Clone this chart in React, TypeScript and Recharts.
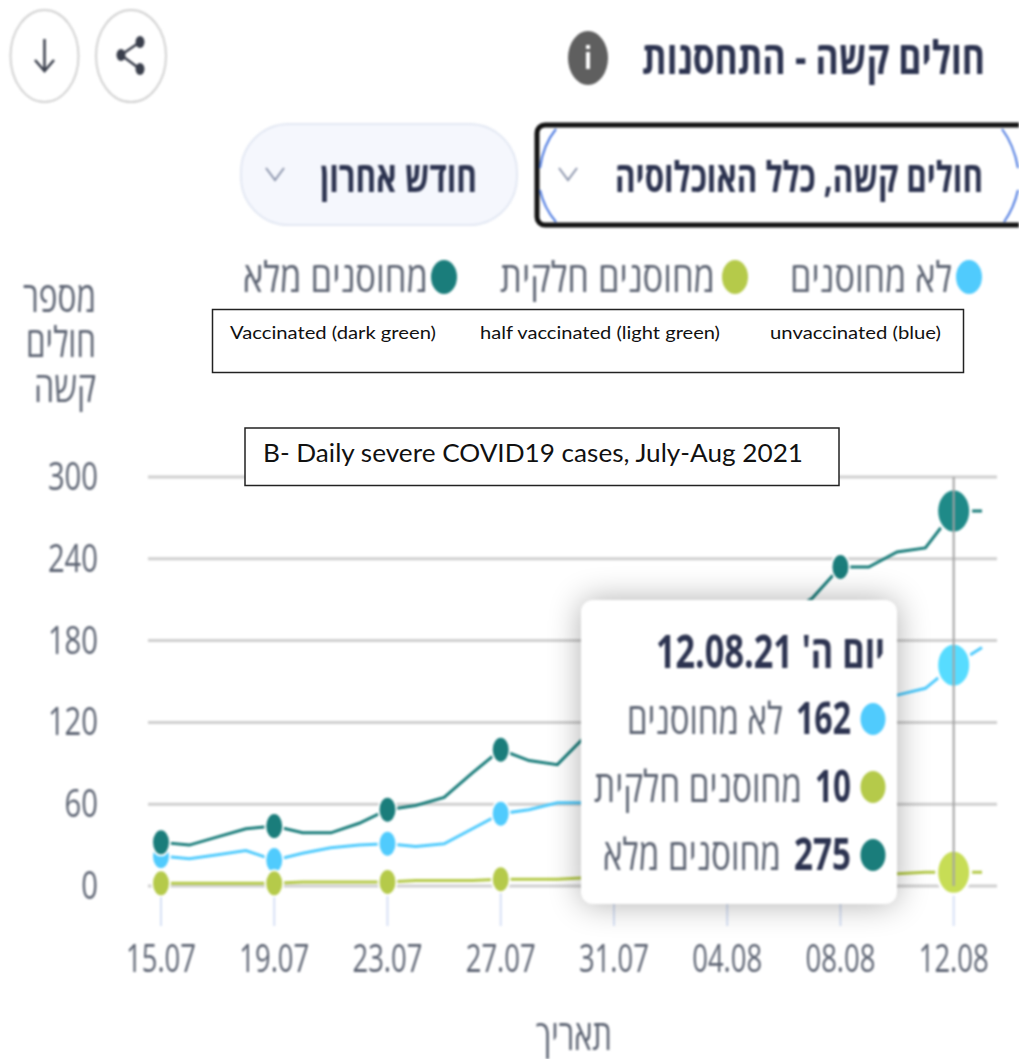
import { CartesianGrid, Line, LineChart, ReferenceLine, Tooltip, XAxis, YAxis } from 'recharts';

const dates: string[] = [
    '15.07', '16.07', '17.07', '18.07', '19.07', '20.07', '21.07', '22.07', '23.07', '24.07',
    '25.07', '26.07', '27.07', '28.07', '29.07', '30.07', '31.07', '01.08', '02.08', '03.08',
    '04.08', '05.08', '06.08', '07.08', '08.08', '09.08', '10.08', '11.08', '12.08', '13.08',
];
const unvaccinated: number[] = [22, 20, 23, 26, 19, 24, 28, 30, 31, 29, 31, 42, 53, 56, 61, 61, 62, 66, 72, 80, 88, 98, 108, 118, 126, 134, 140, 145, 162, 175];
const partial: number[] = [2, 2, 2, 2, 2, 3, 3, 3, 3, 4, 4, 4, 5, 5, 5, 6, 6, 6, 7, 7, 7, 8, 8, 8, 9, 9, 9, 10, 10, 10];
const full: number[] = [32, 30, 36, 42, 44, 39, 39, 46, 56, 59, 65, 83, 100, 92, 89, 110, 122, 135, 148, 160, 172, 184, 198, 211, 234, 234, 245, 248, 275, 275];

const xTicks: string[] = ['15.07', '19.07', '23.07', '27.07', '31.07', '04.08', '08.08', '12.08'];
const yTicks: number[] = [0, 60, 120, 180, 240, 300];
const yTitle: string[] = ['מספר', 'חולים', 'קשה'];

const nameNone = 'לא מחוסנים';
const namePartial = 'מחוסנים חלקית';
const nameFull = 'מחוסנים מלא';

const BLUE = '#50cbfd';
const LIME = '#b5ca4a';
const TEAL = '#1a7d7b';
const ACTIVE_INDEX = 28;
const FONT = '"Open Sans", "Liberation Sans", sans-serif';

const chartData = dates.map((date, i) => ({
    date,
    none: unvaccinated[i],
    partial: partial[i],
    full: full[i],
}));

type TextProps = {
    x: number;
    y: number;
    w: number;
    size: number;
    weight?: number;
    fill?: string;
    rtl?: boolean;
    font?: string;
    children: React.ReactNode;
};

// squeezed text, the source screenshot is condensed horizontally
function SText({ x, y, w, size, weight = 400, fill = '#5d6473', rtl = false, font = FONT, children }: TextProps) {
    return (
        <text
            x={x}
            y={y}
            fontFamily={font}
            fontSize={size}
            fontWeight={weight}
            fill={fill}
            direction={rtl ? 'rtl' : 'ltr'}
            textLength={w}
            lengthAdjust="spacingAndGlyphs"
            dominantBaseline="central"
        >
            {children}
        </text>
    );
}

const makeDot = (color: string, activeColor: string) => (props: any) => {
    const { cx, cy, index } = props;
    if (index % 4 !== 0) return <g key={index} />;
    if (index === ACTIVE_INDEX) {
        return <ellipse key={index} cx={cx} cy={cy} rx={17} ry={22} fill={activeColor} stroke="#fff" strokeWidth={3} />;
    }
    return <ellipse key={index} cx={cx} cy={cy} rx={9} ry={13} fill={color} stroke="#fff" strokeWidth={2} />;
};

const XTick = ({ x, y, payload }: any) => (
    <SText x={x - 35} y={y + 29} w={70} size={38}>{payload.value}</SText>
);

const YTick = ({ y, payload }: any) => {
    const w = String(payload.value).length * 16.7;
    return <SText x={98 - w} y={y - 2} w={w} size={38}>{payload.value}</SText>;
};

function InfoTooltip({ active, payload, label }: any) {
    if (!active || !payload || !payload.length) return null;
    const row = payload[0].payload;
    const rows = [
        { value: row.none, name: nameNone, color: BLUE, y: 119, numW: 55, nameW: 156 },
        { value: row.partial, name: namePartial, color: LIME, y: 187, numW: 36, nameW: 208 },
        { value: row.full, name: nameFull, color: TEAL, y: 255, numW: 57, nameW: 178 },
    ];
    return (
        <div style={{ width: 316, height: 304, background: '#fff', borderRadius: 12, boxShadow: '0 0 32px rgba(0,0,0,0.32)' }}>
            <svg width={316} height={304}>
                <SText x={304} y={50} w={229} size={46} weight={700} fill="#2c3350" rtl>{`יום ה' ${label}.21`}</SText>
                {rows.map(r => (
                    <g key={r.name}>
                        <ellipse cx={292} cy={r.y} rx={12.5} ry={16} fill={r.color} />
                        <SText x={270} y={r.y - 2} w={r.numW} size={44} weight={700} fill="#2c3350" rtl>{r.value}</SText>
                        <SText x={270 - r.numW - 13} y={r.y - 2} w={r.nameW} size={44} fill="#5d6473" rtl>{r.name}</SText>
                    </g>
                ))}
            </svg>
        </div>
    );
}

function Chrome() {
    return (
        <svg width={1019} height={1059} style={{ position: 'absolute', left: 0, top: 0 }}>
            {/* round buttons */}
            <ellipse cx={44.5} cy={56} rx={34} ry={46} fill="#fff" stroke="#d2d2d2" strokeWidth={2} />
            <ellipse cx={131} cy={56} rx={35} ry={46} fill="#fff" stroke="#d2d2d2" strokeWidth={2} />
            <path d="M44.5 39 V70 M35 60 L44.5 71 L54 60" fill="none" stroke="#3a3f4c" strokeWidth={2.5} />
            <path d="M140 42 L121 55 L140 69" fill="none" stroke="#3a3f4c" strokeWidth={2.5} />
            <ellipse cx={140} cy={42} rx={4.5} ry={6} fill="#3a3f4c" />
            <ellipse cx={121} cy={55} rx={4.5} ry={6} fill="#3a3f4c" />
            <ellipse cx={140} cy={69} rx={4.5} ry={6} fill="#3a3f4c" />

            {/* title */}
            <ellipse cx={588} cy={58} rx={20} ry={27} fill="#5f5f5f" />
            <rect x={586} y={52} width={4} height={17} fill="#fff" />
            <rect x={586} y={45} width={4} height={4} fill="#fff" />
            <SText x={985} y={56} w={343} size={46} weight={700} fill="#2c3350" rtl>חולים קשה - התחסנות</SText>

            {/* dropdowns */}
            <rect x={241} y={124} width={276} height={101} rx={48} fill="#f5f7fd" stroke="#e3e8f3" strokeWidth={2} />
            <SText x={477} y={175} w={157} size={42} weight={700} fill="#2c3350" rtl>חודש אחרון</SText>
            <path d="M266 168 L275 180 L284 168" fill="none" stroke="#8d96ad" strokeWidth={2} />
            <rect x={537} y={125} width={490} height={100} rx={8} fill="#fff" stroke="#111" strokeWidth={5} />
            <path d="M556 129 Q543 145 540 168 M540 190 Q544 208 556 222 M1002 129 Q1014 145 1018 168 M1018 190 Q1014 208 1004 222" fill="none" stroke="#4a78e0" strokeWidth={2} />
            <SText x={983} y={175} w={368} size={42} weight={700} fill="#2c3350" rtl>חולים קשה, כלל האוכלוסיה</SText>
            <path d="M559 168 L568 180 L577 168" fill="none" stroke="#8d96ad" strokeWidth={2} />

            {/* legend */}
            <ellipse cx={969} cy={277} rx={13} ry={17} fill={BLUE} />
            <SText x={952} y={275} w={162} size={42} rtl>{nameNone}</SText>
            <ellipse cx={735} cy={277} rx={13} ry={17} fill={LIME} />
            <SText x={715} y={275} w={215} size={42} rtl>{namePartial}</SText>
            <ellipse cx={444} cy={277} rx={13} ry={17} fill={TEAL} />
            <SText x={428} y={275} w={185} size={42} rtl>{nameFull}</SText>

            {/* axis titles */}
            {yTitle.map((line, i) => (
                <SText key={line} x={96} y={295 + i * 45} w={[73, 70, 62][i]} size={42} rtl>{line}</SText>
            ))}
            <SText x={612} y={1033} w={76} size={42} rtl>תאריך</SText>
        </svg>
    );
}

function Notes() {
    const font = 'Lato, sans-serif';
    return (
        <svg width={1019} height={1059} style={{ position: 'absolute', left: 0, top: 0, pointerEvents: 'none' }}>
            <rect x={212.5} y={309.5} width={751} height={63} fill="#fff" stroke="#222" strokeWidth={1.5} />
            <SText x={230} y={332} w={206} size={18} fill="#111" font={font}>Vaccinated (dark green)</SText>
            <SText x={480} y={332} w={240} size={18} fill="#111" font={font}>half vaccinated (light green)</SText>
            <SText x={770} y={332} w={171} size={18} fill="#111" font={font}>unvaccinated (blue)</SText>
            <rect x={245} y={428} width={594} height={57.5} fill="#fff" stroke="#222" strokeWidth={1.5} />
            <SText x={263} y={452} w={540} size={25} fill="#111" font={font}>B- Daily severe COVID19 cases, July-Aug 2021</SText>
        </svg>
    );
}

export default function App() {
    return (
        <div style={{ position: 'absolute', left: 0, top: 0, width: 1019, height: 1059, overflow: 'hidden', background: '#fff' }}>
            <div style={{ filter: 'blur(0.8px)' }}>
                <Chrome />
                <div style={{ position: 'absolute', left: 0, top: 0 }}>
                    <LineChart width={1019} height={1059} data={chartData} margin={{ top: 477, right: 22, bottom: 0, left: 0 }}>
                        <CartesianGrid vertical={false} stroke="#cfcfcf" strokeWidth={3} />
                        <XAxis
                            dataKey="date"
                            ticks={xTicks}
                            interval={0}
                            padding={{ left: 13, right: 15 }}
                            axisLine={false}
                            tickSize={40}
                            tickLine={{ stroke: '#d6e0f5', strokeWidth: 2 }}
                            tick={<XTick />}
                            height={173}
                        />
                        <YAxis domain={[0, 300]} ticks={yTicks} width={148} axisLine={false} tickLine={false} tick={<YTick />} />
                        <Line dataKey="none" name={nameNone} stroke={BLUE} strokeWidth={3} dot={makeDot(BLUE, '#57dcff')} activeDot={false} isAnimationActive={false} />
                        <Line dataKey="partial" name={namePartial} stroke={LIME} strokeWidth={3} dot={makeDot(LIME, '#c7dd55')} activeDot={false} isAnimationActive={false} />
                        <Line dataKey="full" name={nameFull} stroke={TEAL} strokeWidth={3} dot={makeDot(TEAL, '#1f8a88')} activeDot={false} isAnimationActive={false} />
                        <ReferenceLine x="12.08" stroke="#a3a3a3" strokeWidth={2} zIndex={1500} />
                        <Tooltip
                            defaultIndex={ACTIVE_INDEX}
                            content={<InfoTooltip />}
                            position={{ x: 581, y: 600 }}
                            cursor={false}
                            isAnimationActive={false}
                            wrapperStyle={{ outline: 'none' }}
                        />
                    </LineChart>
                </div>
            </div>
            <Notes />
        </div>
    );
}
